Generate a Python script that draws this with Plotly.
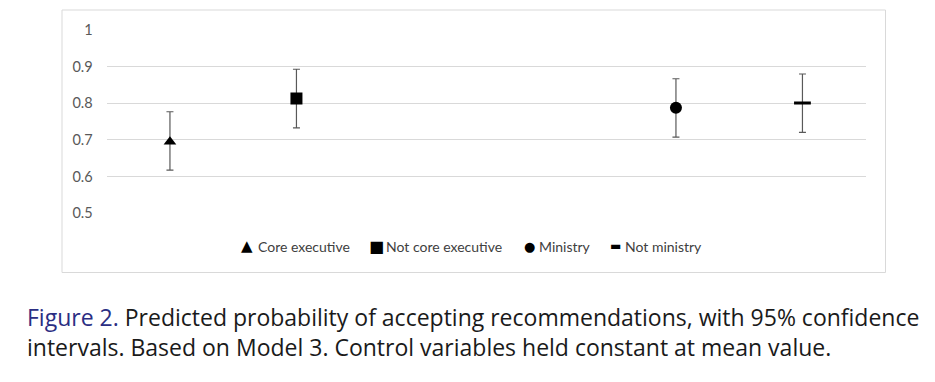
import plotly.graph_objects as go

# Data
series_names = ["Core executive", "Not core executive", "Ministry", "Not ministry"]
x_positions = [0, 1, 4, 5]          # category slots (6 slots, 0..5)
estimates = [0.695, 0.813, 0.788, 0.801]
upper_ci = [0.777, 0.893, 0.867, 0.880]
lower_ci = [0.618, 0.733, 0.708, 0.721]
symbols = ["triangle-up", "square", "circle", "line-ew"]
legend_glyphs = ["▲", "■", "●", "▬"]
y_ticks = [0.5, 0.6, 0.7, 0.8, 0.9, 1.0]
y_tick_labels = ["0.5", "0.6", "0.7", "0.8", "0.9", "1"]

W, H = 935, 382
fig = go.Figure()

sizes = {"triangle-up": 11, "square": 12, "circle": 12, "line-ew": 12}
for name, xp, est, up, lo, sym in zip(series_names, x_positions, estimates, upper_ci, lower_ci, symbols):
    marker = dict(symbol=sym, color="black", size=sizes[sym])
    if sym == "line-ew":
        marker["line"] = dict(width=3, color="black")
    fig.add_trace(go.Scatter(
        x=[xp], y=[est], mode="markers", name=name, marker=marker, showlegend=False,
        error_y=dict(type="data", symmetric=False, array=[up - est], arrayminus=[est - lo],
                     color="#595959", thickness=1.2, width=3.5),
    ))

# legend drawn as text entries (glyph + label)
glyph_cx = [247, 376.5, 529, 615]
glyph_sizes = [15, 16, 13, 12]
label_x = [256, 384, 537, 622.5]
annotations = []
for g, gs, gx, name, lx in zip(legend_glyphs, glyph_sizes, glyph_cx, series_names, label_x):
    annotations.append(dict(
        xref="paper", yref="paper", x=gx / W, y=(H - 246) / H, xanchor="center", yanchor="middle",
        showarrow=False, text=g,
        font=dict(family="DejaVu Sans, sans-serif", size=gs, color="black"),
    ))
    annotations.append(dict(
        xref="paper", yref="paper", x=lx / W, y=(H - 246) / H, xanchor="left", yanchor="middle",
        showarrow=False, text=name,
        font=dict(family="Lato, DejaVu Sans, sans-serif", size=14, color="#404040"),
    ))

cap_font = dict(family="Open Sans, Noto Sans, sans-serif", size=23, color="#1a1a1a")
annotations.append(dict(
    xref="paper", yref="paper", x=25 / W, y=(H - 331.5) / H, xanchor="left", yanchor="middle",
    align="left", showarrow=False,
    text=("<span style='color:#2b2e83'>Figure 2.</span> Predicted probability of accepting recommendations, with 95% confidence"
          "<br>intervals. Based on Model 3. Control variables held constant at mean value."),
    font=cap_font,
))

fig.update_layout(
    width=W, height=H,
    margin=dict(l=0, r=0, t=0, b=0, pad=0, autoexpand=False),
    paper_bgcolor="white", plot_bgcolor="white",
    font=dict(family="Lato, Liberation Sans, sans-serif", color="#404040", size=13),
    xaxis=dict(domain=[106.7 / W, 865.7 / W], range=[-0.5, 5.5], visible=False, fixedrange=True,
               automargin=False),
    yaxis=dict(domain=[(H - 213.3) / H, (H - 30) / H], range=[0.5, 1.0], automargin=False,
               tickvals=y_ticks, ticktext=y_tick_labels, showgrid=True, gridcolor="#d9d9d9",
               gridwidth=1, zeroline=False, showline=False, ticks="",
               ticklabelstandoff=13, tickfont=dict(size=14.5, color="#595959")),
    showlegend=False,
    shapes=[dict(type="rect", xref="paper", yref="paper",
                 x0=62 / W, x1=885.5 / W, y0=(H - 272.5) / H, y1=(H - 10) / H,
                 line=dict(color="#d9d9d9", width=1), fillcolor="rgba(0,0,0,0)", layer="below")],
    annotations=annotations,
)

post = (
    "document.documentElement.style.margin='0';"
    "document.body.style.margin='0';"
    "document.documentElement.style.overflow='hidden';"
    "document.body.style.overflow='hidden';"
    "var d=document.querySelector('.plotly-graph-div');"
    "if(d){d.style.position='fixed';d.style.top='0';d.style.left='0';}"
)
fig.write_html("out.html", post_script=post, config={"displayModeBar": False})
